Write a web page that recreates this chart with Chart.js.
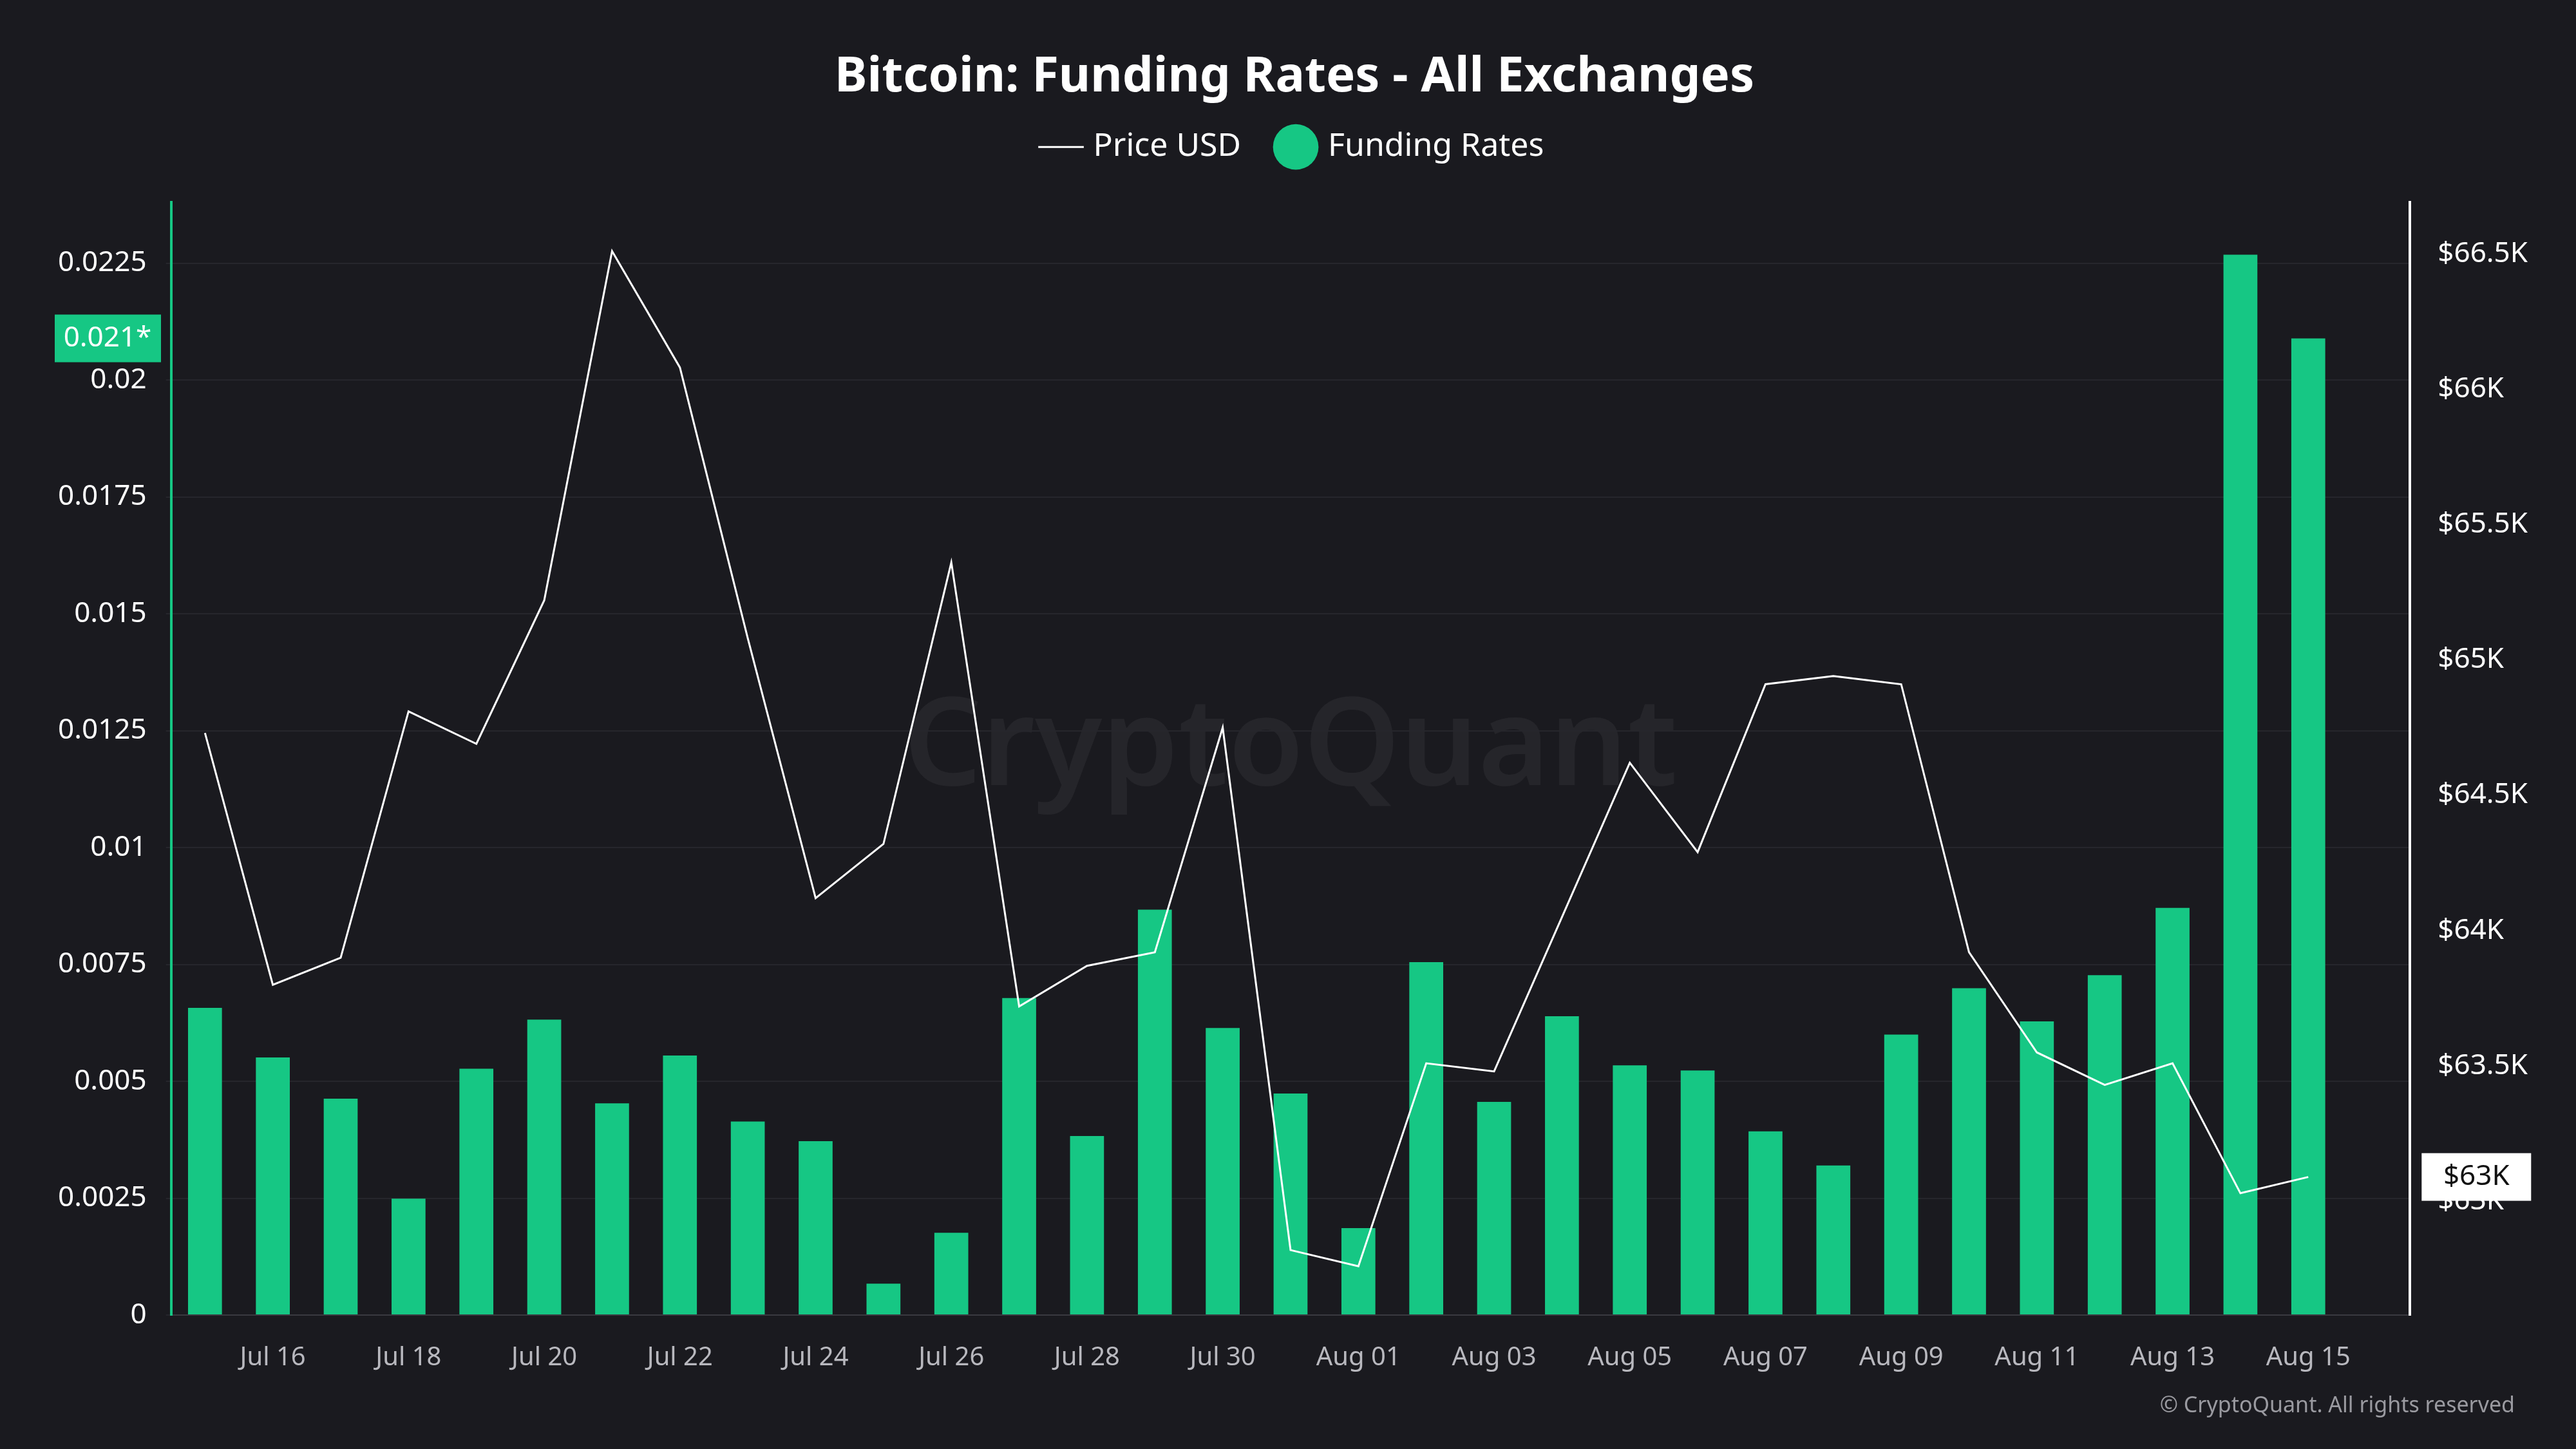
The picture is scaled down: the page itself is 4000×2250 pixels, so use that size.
<!DOCTYPE html>
<html>
<head>
<script src="https://cdn.jsdelivr.net/npm/chart.js@4/dist/chart.umd.min.js"></script>
<style>
  html, body { margin: 0; padding: 0; background: #1a1a1f; }
  #wrap { width: 4000px; height: 2250px; position: relative; }
</style>
</head>
<body>
<div id="wrap"><canvas id="chart" width="4000" height="2250"></canvas></div>
<script>
// trailing empty slot leaves the blank space at the right end of the time axis
const dates = ["Jul 15","Jul 16","Jul 17","Jul 18","Jul 19","Jul 20","Jul 21","Jul 22","Jul 23","Jul 24","Jul 25","Jul 26","Jul 27","Jul 28","Jul 29","Jul 30","Jul 31",
  "Aug 01","Aug 02","Aug 03","Aug 04","Aug 05","Aug 06","Aug 07","Aug 08","Aug 09","Aug 10","Aug 11","Aug 12","Aug 13","Aug 14","Aug 15","Aug 16"];
const fundingRates = [0.00657,0.00551,0.00463,0.00249,0.00527,0.00632,0.00453,0.00555,0.00414,0.00372,0.00067,0.00176,0.00678,0.00383,0.00867,0.00614,0.00474,
  0.00186,0.00755,0.00456,0.00639,0.00534,0.00523,0.00393,0.00320,0.00600,0.00699,0.00628,0.00727,0.00871,0.02268,0.02089];
const priceUsd = [64730,63800,63900,64810,64690,65220,66510,66080,65080,64120,64320,65360,63720,63870,63920,64750,62820,
  62760,63510,63480,64050,64620,64290,64910,64940,64910,63920,63550,63430,63510,63030,63090];
const fundingTicks = [0,0.0025,0.005,0.0075,0.01,0.0125,0.015,0.0175,0.02,0.0225];
const priceTicks = [63000,63500,64000,64500,65000,65500,66000,66500];

const GREEN = "#16c784";
const FONT = "'Noto Sans', 'Open Sans', sans-serif";

// extra room under the legend
const legendGap = {
  id: "legendGap",
  beforeInit(chart) {
    const fit = chart.legend.fit;
    chart.legend.fit = function () {
      fit.bind(chart.legend)();
      this.height += 51;
    };
  }
};

const extras = {
  id: "extras",
  beforeDraw(chart) {
    const { ctx, chartArea: a } = chart;
    ctx.save();
    ctx.fillStyle = "rgba(255,255,255,0.05)";
    ctx.font = "600 190px " + FONT;
    ctx.textAlign = "center";
    ctx.textBaseline = "middle";
    ctx.fillText("CryptoQuant", (a.left + a.right) / 2, 1165);
    ctx.restore();
  },
  afterDraw(chart) {
    const { ctx, chartArea: a } = chart;
    const yL = chart.scales.y, yR = chart.scales.y1;
    ctx.save();
    const fy = yL.getPixelForValue(fundingRates[fundingRates.length - 1]);
    ctx.fillStyle = GREEN;
    ctx.fillRect(85, fy - 37, 165, 74);
    ctx.fillStyle = "#fff";
    ctx.font = "44px " + FONT;
    ctx.textAlign = "center";
    ctx.textBaseline = "middle";
    ctx.fillText("0.021*", 167, fy);
    const py = yR.getPixelForValue(priceUsd[priceUsd.length - 1]);
    ctx.fillStyle = "#fff";
    ctx.fillRect(a.right + 18, py - 37, 170, 74);
    ctx.fillStyle = "#111";
    ctx.fillText("$63K", a.right + 103, py);
    ctx.fillStyle = "#9a9aa0";
    ctx.font = "34px " + FONT;
    ctx.textAlign = "right";
    ctx.fillText("© CryptoQuant. All rights reserved", 3905, 2183);
    ctx.restore();
  }
};

new Chart(document.getElementById("chart"), {
  data: {
    labels: dates,
    datasets: [
      {
        type: "line",
        label: "Price USD",
        data: priceUsd,
        yAxisID: "y1",
        borderColor: "#ffffff",
        backgroundColor: "#ffffff",
        borderWidth: 3,
        pointRadius: 0,
        tension: 0,
        order: 0
      },
      {
        type: "bar",
        label: "Funding Rates",
        data: fundingRates,
        yAxisID: "y",
        backgroundColor: GREEN,
        barPercentage: 0.5,
        categoryPercentage: 1,
        order: 1
      }
    ]
  },
  options: {
    responsive: false,
    animation: false,
    layout: { padding: { top: 30, left: 60, right: 40, bottom: 82 } },
    plugins: {
      title: {
        display: true,
        text: "Bitcoin: Funding Rates - All Exchanges",
        color: "#ffffff",
        font: { family: FONT, size: 76, weight: "bold" },
        padding: { top: 45, bottom: -23 }
      },
      legend: {
        display: true,
        labels: {
          color: "#ffffff",
          font: { family: FONT, size: 50 },
          padding: 60,
          boxWidth: 50,
          usePointStyle: true,
          generateLabels() {
            return [
              { text: "Price USD", fillStyle: "#fff", strokeStyle: "#fff", lineWidth: 3, pointStyle: "line", fontColor: "#fff", datasetIndex: 0 },
              { text: "Funding Rates", fillStyle: GREEN, strokeStyle: GREEN, lineWidth: 0, pointStyle: "circle", fontColor: "#fff", datasetIndex: 1 }
            ];
          }
        }
      },
      tooltip: { enabled: false }
    },
    scales: {
      x: {
        grid: { display: false },
        border: { color: "#3a3a40", width: 2 },
        ticks: {
          color: "#b8b8be",
          font: { family: FONT, size: 40 },
          autoSkip: false,
          maxRotation: 0,
          padding: 35,
          callback(v, i) { return i % 2 === 1 && i < 32 ? dates[i] : ""; }
        }
      },
      y: {
        position: "left",
        min: 0,
        max: 0.0238,
        afterBuildTicks(s) { s.ticks = fundingTicks.map(v => ({ value: v })); },
        grid: { color: "#26262c", lineWidth: 2 },
        border: { color: GREEN, width: 4 },
        ticks: {
          color: "#ffffff",
          font: { family: FONT, size: 44 },
          padding: 30,
          callback(v) { return String(+v.toFixed(4)); }
        }
      },
      y1: {
        position: "right",
        min: 62580,
        max: 66690,
        afterBuildTicks(s) { s.ticks = priceTicks.map(v => ({ value: v })); },
        grid: { display: false },
        border: { color: "#ffffff", width: 4 },
        ticks: {
          color: "#ffffff",
          font: { family: FONT, size: 44 },
          padding: 35,
          callback(v) { return "$" + (v / 1000) + "K"; }
        }
      }
    }
  },
  plugins: [legendGap, extras]
});
</script>
</body>
</html>
